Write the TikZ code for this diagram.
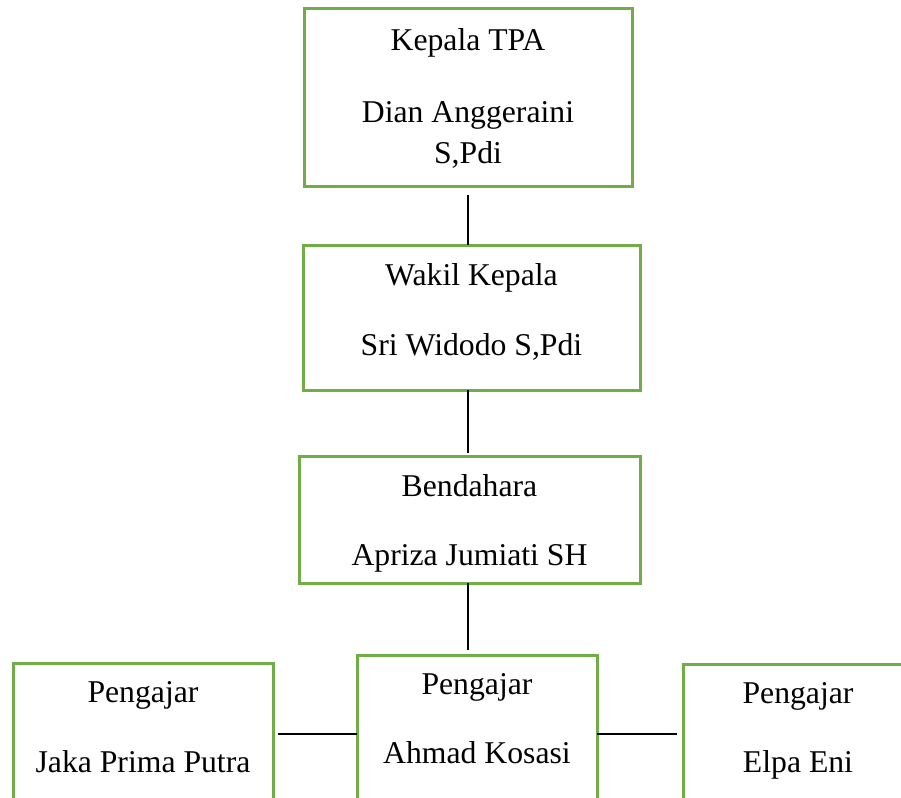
\documentclass[tikz,border=0pt]{standalone}
\usepackage{fontspec}
\setmainfont{Liberation Serif}
\usetikzlibrary{calc,positioning}
\definecolor{hijau}{HTML}{70AD47}
\tikzset{
	kotak/.style={draw=hijau, line width=1.5pt, inner sep=0pt, outer sep=0pt},
	teks/.style={anchor=base, inner sep=0pt, font=\fontsize{15.85}{19}\selectfont},
	garis/.style={black, line width=0.6pt}
}

\begin{document}
\begin{tikzpicture}[x=0.5pt,y=-0.5pt]
\useasboundingbox (0,0) rectangle (901,798);

% kotak-kotak jabatan
\node[kotak, minimum width=164pt, minimum height=89pt] (kepala) at (468,97) {};
\node[kotak, minimum width=168.5pt, minimum height=72.5pt] (wakil) at (471.5,317.5) {};
\node[kotak, minimum width=170.5pt, minimum height=63.5pt] (bendahara) at (469.5,519.5) {};
\node[kotak, minimum width=120pt, minimum height=79pt] (ahmad) at (477,734) {};
\node[kotak, minimum width=130pt, minimum height=71pt] (jaka) at (143,734) {};
\node[kotak, minimum width=115pt, minimum height=70pt] (elpa) at (798,734) {};

% isi kotak
\node[teks] (kepalaA) at ($(kepala.north)+(0,42)$) {Kepala TPA};
\node[teks] (kepalaB) at ($(kepala.north)+(0,114)$) {Dian Anggeraini};
\node[teks] (kepalaC) at ($(kepala.north)+(0,155)$) {S,Pdi};
\node[teks] (wakilA) at ($(wakil.north)+(0,40)$) {Wakil Kepala};
\node[teks] (wakilB) at ($(wakil.north)+(0,110)$) {Sri Widodo S,Pdi};
\node[teks] (bendaharaA) at ($(bendahara.north)+(0,40)$) {Bendahara};
\node[teks] (bendaharaB) at ($(bendahara.north)+(0,109)$) {Apriza Jumiati SH};
\node[teks] (ahmadA) at ($(ahmad.north)+(0,39)$) {Pengajar};
\node[teks] (ahmadB) at ($(ahmad.north)+(0,108)$) {Ahmad Kosasi};
\node[teks] (jakaA) at ($(jaka.north)+(0,39)$) {Pengajar};
\node[teks] (jakaB) at ($(jaka.north)+(0,109)$) {Jaka Prima Putra};
\node[teks] (elpaA) at ($(elpa.north)+(0,39)$) {Pengajar};
\node[teks] (elpaB) at ($(elpa.north)+(0,108)$) {Elpa Eni};

% garis penghubung
\draw[garis, shorten <=4.5pt] (kepala.south) -- (kepala.south |- wakil.north);
\draw[garis, shorten >=1.5pt] (kepala.south |- wakil.south) -- (kepala.south |- bendahara.north);
\draw[garis, shorten >=2.5pt] (kepala.south |- bendahara.south) -- (kepala.south |- ahmad.north);
\draw[garis, shorten <=2.5pt] (jaka.east) -- (ahmad.west);
\draw[garis, shorten >=3pt] (ahmad.east) -- (elpa.west);

\end{tikzpicture}
\end{document}
